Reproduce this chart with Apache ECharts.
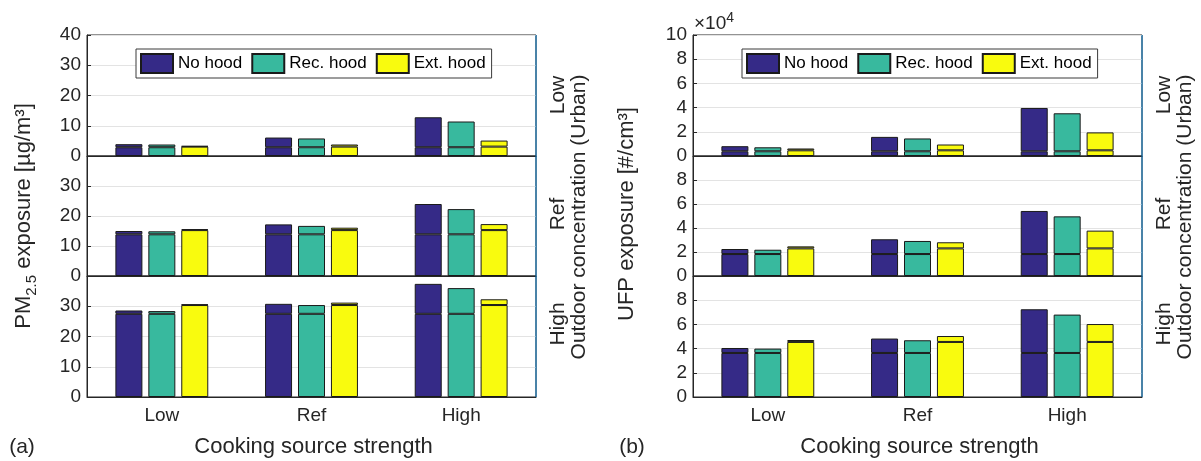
<!DOCTYPE html>
<html>
<head>
<meta charset="utf-8">
<title>Cooking exposure with and without range hoods</title>
<script src="https://cdn.jsdelivr.net/npm/echarts@6/dist/echarts.min.js"></script>
<style>
  html, body { margin: 0; padding: 0; background: #fff; }
  #chart { width: 1201px; height: 461px; }
</style>
</head>
<body>
<div id="chart"></div>
<script>
// Cooking source strength (x categories) and outdoor concentration levels (rows)
const categories = ['Low', 'Ref', 'High'];
const outdoorLevels = ['Low', 'Ref', 'High'];
const hoods = ['No hood', 'Rec. hood', 'Ext. hood'];

// PM2.5 total exposure [µg/m³]; rows = outdoor Low / Ref / High, columns = cooking Low / Ref / High
const pmNoHood  = [[3.9, 6.1, 12.8], [15.0, 17.2, 24.0], [28.6, 30.8, 37.4]];
const pmRecHood = [[3.8, 5.8, 11.4], [14.9, 16.7, 22.3], [28.4, 30.4, 36.0]];
const pmExtHood = [[3.3, 3.8, 5.1],  [15.6, 16.1, 17.3], [30.6, 31.2, 32.3]];
// PM2.5 exposure of outdoor origin, per outdoor level
const pmOutdoorNoHood  = [2.9, 13.9, 27.5];
const pmOutdoorRecHood = [2.9, 13.9, 27.5];
const pmOutdoorExtHood = [3.1, 15.3, 30.4];

// UFP total exposure [#/cm³]
const ufpNoHood  = [[8100, 15800, 39700], [22500, 30600, 54200], [40500, 48300, 72500]];
const ufpRecHood = [[7200, 14500, 35300], [21900, 29200, 49700], [40000, 46900, 68100]];
const ufpExtHood = [[6200, 9500, 19500],  [24700, 28100, 37800], [47100, 50400, 60300]];
// UFP exposure of outdoor origin, per outdoor level
const ufpOutdoorNoHood  = [3900, 18300, 36400];
const ufpOutdoorRecHood = [3900, 18300, 36400];
const ufpOutdoorExtHood = [4700, 23000, 45500];

// y tick setup per panel
const pmTicks = { max: 40, interval: 10 };
const ufpTicks = { max: 100000, interval: 20000 };

const hoodColors = ['#352a87', '#38b99e', '#f9fb0e'];
const FONT = "'Liberation Sans', Arial, Helvetica, sans-serif";
const INK = '#262626';

const panels = [
  { left: 87,  totals: [pmNoHood, pmRecHood, pmExtHood],
    outdoor: [pmOutdoorNoHood, pmOutdoorRecHood, pmOutdoorExtHood],
    ticks: pmTicks, fmt: v => String(v) },
  { left: 693, totals: [ufpNoHood, ufpRecHood, ufpExtHood],
    outdoor: [ufpOutdoorNoHood, ufpOutdoorRecHood, ufpOutdoorExtHood],
    ticks: ufpTicks, fmt: v => String(Math.round(v / 10000)) }
];
const rowTops = [35, 156, 276];
const rowHeights = [121, 120, 121];
const plotWidth = 449;

const grid = [], xAxis = [], yAxis = [], series = [];

panels.forEach((p, pi) => {
  rowTops.forEach((top, ri) => {
    const idx = pi * 3 + ri;
    grid.push({
      left: p.left, top: top, width: plotWidth, height: rowHeights[ri],
      show: true, borderColor: INK, borderWidth: 1, backgroundColor: '#fff'
    });
    xAxis.push({
      type: 'category', gridIndex: idx, data: categories,
      axisLine: { lineStyle: { color: INK, width: 1 } },
      axisTick: { inside: true, alignWithLabel: true, length: 5, lineStyle: { color: INK } },
      axisLabel: { show: ri === 2, fontFamily: FONT, fontSize: 19, color: INK, margin: 9 },
      splitLine: { show: false }
    });
    yAxis.push({
      type: 'value', gridIndex: idx, min: 0, max: p.ticks.max, interval: p.ticks.interval,
      axisLine: { show: true, lineStyle: { color: INK, width: 1 } },
      axisTick: { show: true, inside: true, length: 4, lineStyle: { color: INK } },
      axisLabel: {
        fontFamily: FONT, fontSize: 19, color: INK, margin: 6,
        showMaxLabel: ri === 0, showMinLabel: true,
        formatter: p.fmt
      },
      splitLine: { show: true, lineStyle: { color: '#e3e3e3', width: 1 } }
    });
    hoods.forEach((h, hi) => {
      const out = p.outdoor[hi][ri];
      const tot = p.totals[hi][ri];
      const style = { color: hoodColors[hi], borderColor: '#1a1a1a', borderWidth: 1 };
      const common = {
        type: 'bar', name: h, xAxisIndex: idx, yAxisIndex: idx,
        stack: 'p' + pi + 'r' + ri + 'h' + hi,
        barWidth: 27, barGap: '22%', itemStyle: style,
        silent: true, animation: false
      };
      // part of exposure coming from outdoors
      series.push(Object.assign({}, common, { data: tot.map(() => out) }));
      // remainder from indoor cooking
      series.push(Object.assign({}, common, { data: tot.map(t => +(t - out).toFixed(4)) }));
    });
  });
});

const legendBase = {
  data: hoods, icon: 'rect', itemWidth: 32, itemHeight: 19, itemGap: 9,
  padding: [4, 6, 4, 4], borderColor: '#3a3a3a', borderWidth: 1, backgroundColor: '#fff',
  selectedMode: false, orient: 'horizontal',
  textStyle: { fontFamily: FONT, fontSize: 17, color: '#000' }
};

function vText(x, y, text, size, extra) {
  return Object.assign({
    type: 'text', x: x, y: y, rotation: Math.PI / 2,
    style: { text: text, fontFamily: FONT, fontSize: size, fill: INK, align: 'center', verticalAlign: 'middle' }
  }, extra || {});
}

const graphic = [];
panels.forEach((p, pi) => {
  const right = p.left + plotWidth;
  // right-hand axis edge
  graphic.push({ type: 'line', shape: { x1: right, y1: 35, x2: right, y2: 397 },
    style: { stroke: '#0072bd', lineWidth: 1 }, z: 100 });
  // outdoor level labels and their caption
  outdoorLevels.forEach((lvl, li) => {
    graphic.push(vText(right + 22, [95, 214, 324][li], lvl, 21));
  });
  graphic.push(vText(right + 43, 217, 'Outdoor concentration (Urban)', 21));
  // x axis title and panel letter
  graphic.push({ type: 'text', x: p.left + plotWidth / 2 + 2, y: 447,
    style: { text: 'Cooking source strength', fontFamily: FONT, fontSize: 22, fill: INK, align: 'center', verticalAlign: 'middle' } });
  graphic.push({ type: 'text', x: pi === 0 ? 22 : 632, y: 447,
    style: { text: pi === 0 ? '(a)' : '(b)', fontFamily: FONT, fontSize: 21, fill: INK, align: 'center', verticalAlign: 'middle' } });
});
// y axis titles
graphic.push({
  type: 'text', x: 24, y: 216, rotation: Math.PI / 2,
  style: {
    text: '{m|PM}{s|2.5}{m| exposure [µg/m³]}', align: 'center', verticalAlign: 'middle',
    rich: {
      m: { fontFamily: FONT, fontSize: 22, fill: INK },
      s: { fontFamily: FONT, fontSize: 15, fill: INK, padding: [15, 0, 0, 0] }
    }
  }
});
graphic.push(vText(627, 214, 'UFP exposure [#/cm³]', 22));
// exponent for the UFP axis
graphic.push({
  type: 'text', x: 694, y: 24,
  style: {
    text: '{a|×10}{b|4}', align: 'left', verticalAlign: 'middle',
    rich: {
      a: { fontFamily: FONT, fontSize: 19, fill: INK },
      b: { fontFamily: FONT, fontSize: 14, fill: INK, padding: [0, 0, 12, 0] }
    }
  }
});

const chart = echarts.init(document.getElementById('chart'), null, { renderer: 'canvas' });
chart.setOption({
  animation: false,
  backgroundColor: '#fff',
  grid: grid, xAxis: xAxis, yAxis: yAxis, series: series,
  legend: [
    Object.assign({}, legendBase, { left: 136, top: 49 }),
    Object.assign({}, legendBase, { left: 742, top: 49 })
  ],
  graphic: graphic
});
</script>
</body>
</html>
